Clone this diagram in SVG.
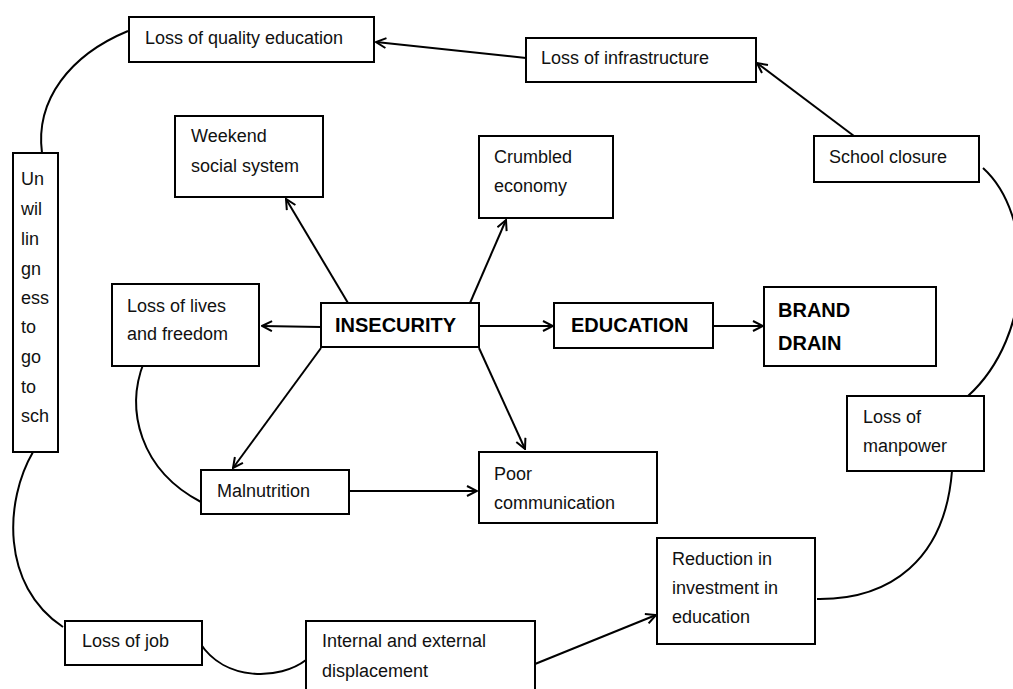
<svg xmlns="http://www.w3.org/2000/svg" width="1013" height="689" viewBox="0 0 1013 689">
<style>
.box{fill:#fff;stroke:#000;stroke-width:2}
.t{font-family:"Liberation Sans",Arial,sans-serif;font-size:18px;fill:#111}
.b{font-family:"Liberation Sans",Arial,sans-serif;font-size:20px;font-weight:bold;fill:#000}
.ln{fill:none;stroke:#000;stroke-width:2}
.ar{fill:none;stroke:#000;stroke-width:2;marker-end:url(#arr)}
</style>
<defs>
<marker id="arr" viewBox="0 0 12 12" refX="11" refY="6" markerWidth="12" markerHeight="12" markerUnits="userSpaceOnUse" orient="auto">
<path d="M1,1 L11,6 L1,11" fill="none" stroke="#000" stroke-width="2"/>
</marker>
</defs>
<rect width="1013" height="689" fill="#fff"/>
<g id="connectors">
<line class="ar" x1="526" y1="58" x2="376" y2="42"/>
<line class="ar" x1="854" y1="136" x2="757" y2="63"/>
<path class="ln" d="M983,168 C1035,215 1035,335 968,396"/>
<path class="ln" d="M952,471 C945,560 890,600 817,599"/>
<line class="ar" x1="535" y1="664" x2="656" y2="615"/>
<path class="ln" d="M200,643 C225,682 280,680 306,660"/>
<path class="ln" d="M63,627 C0,585 5,500 33,452"/>
<path class="ln" d="M42,153 C35,100 70,55 128,31"/>
<line class="ar" x1="479" y1="326" x2="553" y2="326"/>
<line class="ar" x1="713" y1="326" x2="763" y2="326"/>
<line class="ar" x1="321" y1="327" x2="262" y2="326"/>
<line class="ar" x1="321" y1="348" x2="233" y2="468"/>
<path class="ln" d="M144,362 C125,410 140,470 201,502"/>
<line class="ar" x1="349" y1="491" x2="477" y2="491"/>
<line class="ar" x1="479" y1="348" x2="525" y2="449"/>
<line class="ar" x1="348" y1="303" x2="286" y2="199"/>
<line class="ar" x1="470" y1="303" x2="506" y2="220"/>
</g>
<g id="n-quality"><rect class="box" x="129" y="17" width="245" height="45"/><text class="t" x="145" y="44">Loss of quality education</text></g>
<g id="n-infra"><rect class="box" x="526" y="38" width="230" height="44"/><text class="t" x="541" y="64">Loss of infrastructure</text></g>
<g id="n-school"><rect class="box" x="814" y="136" width="165" height="46"/><text class="t" x="829" y="163">School closure</text></g>
<g id="n-manpower"><rect class="box" x="847" y="396" width="137" height="75"/><text class="t" x="863" y="423">Loss of</text><text class="t" x="863" y="452">manpower</text></g>
<g id="n-reduction"><rect class="box" x="657" y="538" width="158" height="106"/><text class="t" x="672" y="565">Reduction in</text><text class="t" x="672" y="594">investment in</text><text class="t" x="672" y="623">education</text></g>
<g id="n-displacement"><rect class="box" x="306" y="621" width="229" height="80"/><text class="t" x="322" y="647">Internal and external</text><text class="t" x="322" y="677">displacement</text></g>
<g id="n-job"><rect class="box" x="65" y="621" width="137" height="44"/><text class="t" x="82" y="647">Loss of job</text></g>
<g id="n-unwilling"><rect class="box" x="13" y="153" width="45" height="299"/>
<text class="t" x="21" y="185">Un</text><text class="t" x="21" y="215">wil</text><text class="t" x="21" y="245">lin</text><text class="t" x="21" y="275">gn</text><text class="t" x="21" y="304">ess</text><text class="t" x="21" y="333">to</text><text class="t" x="21" y="363">go</text><text class="t" x="21" y="393">to</text><text class="t" x="21" y="422">sch</text></g>
<g id="n-weekend"><rect class="box" x="175" y="116" width="148" height="81"/><text class="t" x="191" y="142">Weekend</text><text class="t" x="191" y="172">social system</text></g>
<g id="n-crumbled"><rect class="box" x="479" y="136" width="134" height="82"/><text class="t" x="494" y="163">Crumbled</text><text class="t" x="494" y="192">economy</text></g>
<g id="n-insecurity"><rect class="box" x="321" y="303" width="158" height="44"/><text class="b" x="335" y="332">INSECURITY</text></g>
<g id="n-education"><rect class="box" x="554" y="303" width="159" height="45"/><text class="b" x="571" y="332">EDUCATION</text></g>
<g id="n-brand"><rect class="box" x="764" y="287" width="172" height="79"/><text class="b" x="778" y="317">BRAND</text><text class="b" x="778" y="350">DRAIN</text></g>
<g id="n-lives"><rect class="box" x="112" y="284" width="147" height="82"/><text class="t" x="127" y="312">Loss of lives</text><text class="t" x="127" y="340">and freedom</text></g>
<g id="n-malnutrition"><rect class="box" x="201" y="470" width="148" height="44"/><text class="t" x="217" y="497">Malnutrition</text></g>
<g id="n-poor"><rect class="box" x="479" y="452" width="178" height="71"/><text class="t" x="494" y="480">Poor</text><text class="t" x="494" y="509">communication</text></g>
</svg>
